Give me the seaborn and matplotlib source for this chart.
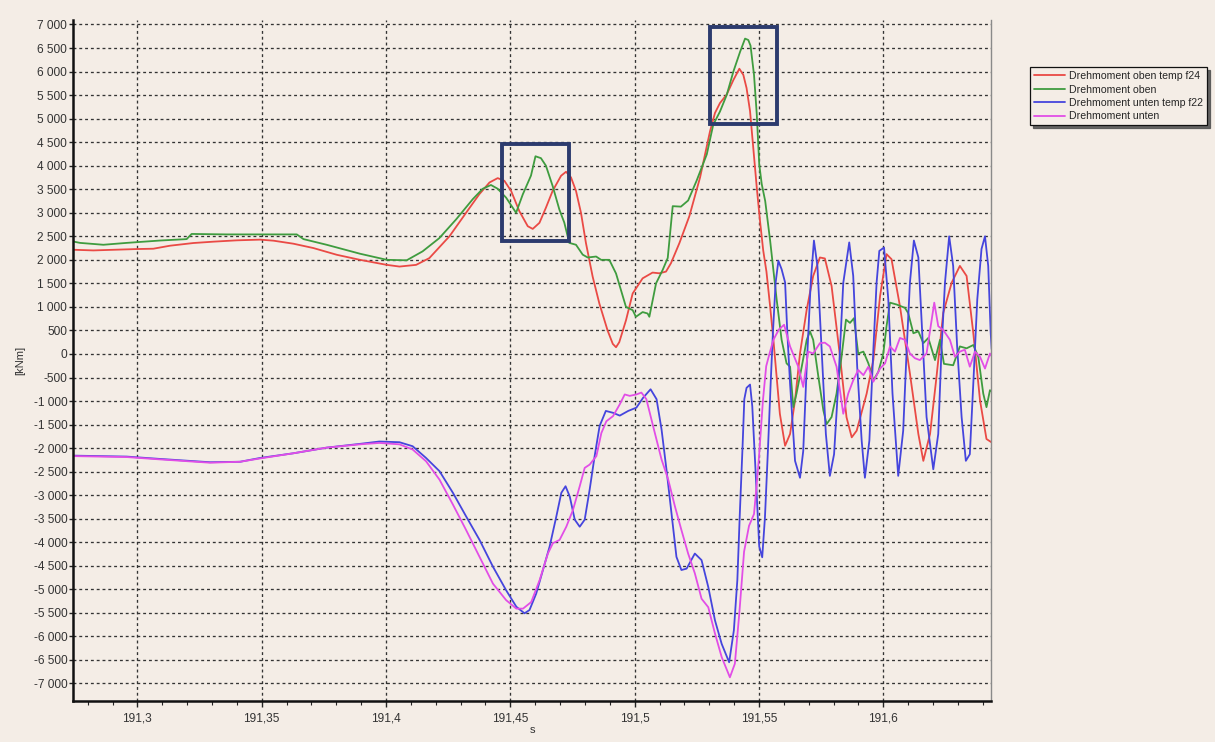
import matplotlib
matplotlib.use("Agg")
import matplotlib.pyplot as plt
from matplotlib.ticker import MultipleLocator, FuncFormatter
from matplotlib.patches import Rectangle
import pandas as pd
import seaborn as sns

# ---- measured torque traces: time [s] / torque [kNm] ----
t_oben_f24 = [
    191.2743, 191.2823, 191.2997, 191.3064, 191.3131, 191.3225, 191.3306, 191.3399,
    191.3493, 191.3547, 191.3627, 191.3708, 191.3802, 191.3895, 191.4003, 191.4054,
    191.4121, 191.4174, 191.4255, 191.4322, 191.4375, 191.4416, 191.4449, 191.4476,
    191.4503, 191.4536, 191.4570, 191.4590, 191.4617, 191.4643, 191.4670, 191.4704,
    191.4724, 191.4744, 191.4764, 191.4784, 191.4804, 191.4831, 191.4858, 191.4891,
    191.4912, 191.4925, 191.4938, 191.4965, 191.4992, 191.5032, 191.5072, 191.5099,
    191.5126, 191.5146, 191.5180, 191.5220, 191.5263, 191.5303, 191.5323, 191.5343,
    191.5370, 191.5397, 191.5421, 191.5437, 191.5450, 191.5464, 191.5477, 191.5491,
    191.5504, 191.5517, 191.5530, 191.5545, 191.5558, 191.5584, 191.5605, 191.5625,
    191.5645, 191.5665, 191.5692, 191.5718, 191.5745, 191.5765, 191.5792, 191.5826,
    191.5852, 191.5873, 191.5893, 191.5933, 191.5960, 191.5987, 191.6013, 191.6033,
    191.6067, 191.6107, 191.6141, 191.6161, 191.6188, 191.6214, 191.6241, 191.6275,
    191.6308, 191.6335, 191.6362, 191.6389, 191.6415, 191.6436,
]
m_oben_f24 = [
    2214, 2200, 2229, 2236, 2300, 2357, 2386, 2414,
    2429, 2407, 2343, 2250, 2107, 2000, 1893, 1857,
    1893, 2036, 2500, 3000, 3393, 3643, 3736, 3679,
    3464, 3036, 2714, 2657, 2786, 3107, 3464, 3786,
    3871, 3750, 3464, 3000, 2357, 1643, 1071, 500,
    214, 143, 250, 714, 1286, 1607, 1729, 1714,
    1750, 1929, 2357, 2929, 3750, 4730, 5120, 5330,
    5510, 5820, 6060, 5930, 5650, 5160, 4380, 3540,
    2830, 2200, 1750, 1000, 300, -1271, -1950, -1700,
    -986, 14, 943, 1657, 2050, 2029, 1443, -57,
    -1343, -1771, -1629, -843, -129, 1229, 2121, 2014,
    1014, -414, -1700, -2271, -1700, -486, 871, 1514,
    1871, 1657, 443, -986, -1807, -1879,
]

t_oben = [
    191.2741, 191.2769, 191.2863, 191.2957, 191.3091, 191.3198, 191.3218, 191.3359,
    191.3493, 191.3641, 191.3668, 191.3761, 191.3895, 191.4003, 191.4083, 191.4147,
    191.4214, 191.4282, 191.4349, 191.4389, 191.4422, 191.4449, 191.4483, 191.4523,
    191.4550, 191.4583, 191.4601, 191.4623, 191.4643, 191.4670, 191.4697, 191.4717,
    191.4737, 191.4764, 191.4791, 191.4811, 191.4845, 191.4865, 191.4898, 191.4925,
    191.4965, 191.4992, 191.5005, 191.5032, 191.5052, 191.5059, 191.5086, 191.5113,
    191.5133, 191.5153, 191.5186, 191.5215, 191.5249, 191.5290, 191.5316, 191.5343,
    191.5370, 191.5397, 191.5424, 191.5444, 191.5457, 191.5466, 191.5480, 191.5491,
    191.5501, 191.5511, 191.5525, 191.5545, 191.5571, 191.5591, 191.5611, 191.5625,
    191.5638, 191.5651, 191.5672, 191.5692, 191.5705, 191.5718, 191.5739, 191.5759,
    191.5772, 191.5792, 191.5812, 191.5832, 191.5850, 191.5866, 191.5882, 191.5899,
    191.5920, 191.5940, 191.5960, 191.5980, 191.6000, 191.6013, 191.6027, 191.6054,
    191.6087, 191.6100, 191.6121, 191.6141, 191.6161, 191.6181, 191.6208, 191.6228,
    191.6244, 191.6281, 191.6308, 191.6335, 191.6362, 191.6382, 191.6402, 191.6415,
    191.6429, 191.6436,
]
m_oben = [
    2390, 2360, 2320, 2360, 2410, 2440, 2550, 2540,
    2540, 2540, 2440, 2320, 2130, 2000, 1990, 2180,
    2460, 2860, 3290, 3510, 3590, 3510, 3320, 3000,
    3390, 3790, 4200, 4160, 4000, 3570, 3070, 2790,
    2360, 2320, 2110, 2050, 2070, 2000, 2000, 1710,
    1000, 930, 790, 890, 860, 790, 1500, 1790,
    2040, 3140, 3130, 3260, 3680, 4240, 4870, 5150,
    5500, 6000, 6420, 6700, 6670, 6550, 5930, 5100,
    4030, 3610, 3250, 2400, 1160, 300, -200, -270,
    -1130, -840, -270, 300, 480, 300, -490, -1200,
    -1490, -1340, -840, -60, 730, 660, 760, 10,
    50, -200, -560, -380, 10, 590, 1090, 1050,
    980, 870, 440, 480, 230, 340, -130, 300,
    -210, -240, 160, 120, 190, -60, -840, -1130,
    -770, -800,
]

t_unten_f22 = [
    191.2743, 191.2957, 191.3091, 191.3292, 191.3413, 191.3493, 191.3627, 191.3761,
    191.3895, 191.3973, 191.4054, 191.4107, 191.4161, 191.4215, 191.4269, 191.4322,
    191.4376, 191.4430, 191.4483, 191.4524, 191.4557, 191.4577, 191.4604, 191.4631,
    191.4658, 191.4685, 191.4705, 191.4722, 191.4739, 191.4759, 191.4779, 191.4799,
    191.4819, 191.4839, 191.4859, 191.4884, 191.4913, 191.4940, 191.4974, 191.5007,
    191.5034, 191.5064, 191.5088, 191.5108, 191.5128, 191.5148, 191.5168, 191.5188,
    191.5209, 191.5242, 191.5269, 191.5296, 191.5323, 191.5350, 191.5380, 191.5399,
    191.5413, 191.5423, 191.5434, 191.5441, 191.5450, 191.5464, 191.5473, 191.5488,
    191.5501, 191.5513, 191.5524, 191.5536, 191.5547, 191.5556, 191.5567, 191.5578,
    191.5591, 191.5605, 191.5614, 191.5625, 191.5645, 191.5665, 191.5678, 191.5692,
    191.5708, 191.5721, 191.5735, 191.5752, 191.5769, 191.5785, 191.5802, 191.5819,
    191.5839, 191.5863, 191.5879, 191.5895, 191.5913, 191.5926, 191.5944, 191.5960,
    191.5973, 191.5984, 191.6003, 191.6020, 191.6037, 191.6060, 191.6080, 191.6094,
    191.6107, 191.6123, 191.6141, 191.6158, 191.6174, 191.6201, 191.6221, 191.6234,
    191.6248, 191.6265, 191.6281, 191.6297, 191.6315, 191.6332, 191.6348, 191.6362,
    191.6378, 191.6395, 191.6409, 191.6422, 191.6432, 191.6436,
]
m_unten_f22 = [
    -2160, -2180, -2230, -2300, -2290, -2210, -2110, -1990,
    -1910, -1860, -1875, -1960, -2210, -2490, -2950, -3450,
    -3950, -4520, -5020, -5370, -5510, -5440, -5090, -4590,
    -4090, -3450, -2950, -2810, -3030, -3520, -3670, -3520,
    -2880, -2170, -1530, -1210, -1250, -1310, -1210, -1140,
    -930, -750, -960, -1600, -2460, -3380, -4310, -4590,
    -4560, -4240, -4380, -4950, -5660, -6160, -6550, -5870,
    -4800, -3380, -1960, -960, -720, -650, -1110, -2670,
    -4090, -4320, -3470, -2040, -620, 450, 1520, 1980,
    1800, 1520, 450, -630, -2270, -2630, -2060, -270,
    1510, 2410, 1870, 90, -1700, -2590, -2130, -630,
    1510, 2370, 1660, -270, -1840, -2630, -1840, 90,
    1510, 2190, 2260, 1160, -840, -2590, -1630, 90,
    1510, 2410, 2050, 300, -1340, -2450, -1700, 90,
    1510, 2500, 1870, 160, -1340, -2270, -2130, -630,
    1160, 2230, 2500, 1870, 440, 100,
]

t_unten = [
    191.2743, 191.2957, 191.3091, 191.3292, 191.3413, 191.3493, 191.3627, 191.3761,
    191.3895, 191.3973, 191.4054, 191.4107, 191.4161, 191.4215, 191.4269, 191.4322,
    191.4376, 191.4430, 191.4483, 191.4524, 191.4551, 191.4584, 191.4618, 191.4651,
    191.4671, 191.4698, 191.4725, 191.4752, 191.4779, 191.4799, 191.4819, 191.4846,
    191.4866, 191.4886, 191.4913, 191.4940, 191.4960, 191.4980, 191.5007, 191.5027,
    191.5047, 191.5074, 191.5108, 191.5135, 191.5162, 191.5188, 191.5215, 191.5242,
    191.5269, 191.5296, 191.5323, 191.5350, 191.5383, 191.5403, 191.5421, 191.5440,
    191.5460, 191.5480, 191.5491, 191.5500, 191.5516, 191.5529, 191.5543, 191.5558,
    191.5580, 191.5601, 191.5625, 191.5658, 191.5678, 191.5698, 191.5718, 191.5745,
    191.5765, 191.5785, 191.5812, 191.5839, 191.5859, 191.5879, 191.5899, 191.5920,
    191.5940, 191.5960, 191.5987, 191.6007, 191.6027, 191.6047, 191.6067, 191.6087,
    191.6107, 191.6127, 191.6147, 191.6174, 191.6205, 191.6221, 191.6241, 191.6268,
    191.6288, 191.6308, 191.6328, 191.6348, 191.6369, 191.6389, 191.6409, 191.6429,
    191.6436,
]
m_unten = [
    -2170, -2190, -2240, -2310, -2290, -2220, -2110, -1990,
    -1920, -1890, -1920, -2030, -2280, -2670, -3200, -3740,
    -4310, -4880, -5230, -5410, -5410, -5270, -4800, -4240,
    -4020, -3950, -3670, -3310, -2810, -2420, -2350, -2170,
    -1680, -1430, -1320, -1070, -860, -890, -860, -820,
    -960, -1530, -2240, -2670, -3240, -3740, -4240, -4660,
    -5200, -5380, -5940, -6440, -6870, -6580, -5500, -4200,
    -3650, -3400, -2760, -2190, -980, -260, 20, 300,
    520, 620, 160, -270, -700, 50, 10, 230,
    240, 160, -270, -1270, -840, -560, -340, -450,
    -270, -590, -310, -200, 160, 50, 340, 300,
    10, -90, -130, 10, 1090, 590, 510, 300,
    -60, 50, 90, -270, 50, -60, -310, 10,
    -50,
]

series_names = ["Drehmoment oben temp f24", "Drehmoment oben",
                "Drehmoment unten temp f22", "Drehmoment unten"]
series_colors = ["#ea4a45", "#3f9c3f", "#4545dd", "#e24ee6"]

# highlighted windows: (t_start, t_end, m_low, m_high)
highlight_1 = (191.4466, 191.4737, 2400, 4460)
highlight_2 = (191.5302, 191.5571, 4890, 6950)

x_limits = (191.2741, 191.6433)
y_limits = (-7372, 7085)

# ---- figure ----
sns.set_style("white")
plt.rcParams["font.family"] = ["Liberation Sans", "DejaVu Sans"]

bg = "#f4ede6"
fig = plt.figure(figsize=(12.15, 7.42), dpi=100, facecolor=bg)
ax = fig.add_axes([0.0601, 0.0553, 0.7555, 0.9171])
ax.set_facecolor(bg)

frames = []
for name, t, m in zip(series_names,
                      [t_oben_f24, t_oben, t_unten_f22, t_unten],
                      [m_oben_f24, m_oben, m_unten_f22, m_unten]):
    frames.append(pd.DataFrame({"t": t, "m": m, "signal": name}))
df = pd.concat(frames, ignore_index=True)

for name, col in zip(series_names, series_colors):
    sub = df[df["signal"] == name]
    sns.lineplot(data=sub, x="t", y="m", color=col, linewidth=1.3,
                 sort=False, estimator=None, label=name, ax=ax)

for (t0, t1, m0, m1) in (highlight_1, highlight_2):
    ax.add_patch(Rectangle((t0, m0), t1 - t0, m1 - m0, fill=False,
                           edgecolor="#2c3b6e", linewidth=2.8, zorder=5))

ax.set_xlim(*x_limits)
ax.set_ylim(*y_limits)

ax.yaxis.set_major_locator(MultipleLocator(500))
ax.xaxis.set_major_locator(MultipleLocator(0.05))
ax.xaxis.set_minor_locator(MultipleLocator(0.01))
ax.yaxis.set_major_formatter(FuncFormatter(
    lambda v, p: f"{int(round(v)):,}".replace(",", " ")))
ax.xaxis.set_major_formatter(FuncFormatter(
    lambda v, p: f"{v:.2f}".rstrip("0").rstrip(".").replace(".", ",")))

ax.grid(True, which="major", color="#333333", linestyle=(0, (2.2, 2.2)),
        linewidth=0.95)
ax.tick_params(axis="both", which="both", direction="out", colors="#222222",
               labelcolor="#333333", labelsize=8.6)
ax.tick_params(axis="y", length=3, width=1, pad=1.2, left=True)
ax.tick_params(axis="x", which="major", length=4, width=1, pad=4, bottom=True)
ax.tick_params(axis="x", which="minor", length=3, width=0.8, bottom=True)

for side in ("left", "bottom"):
    ax.spines[side].set_color("#111111")
    ax.spines[side].set_linewidth(1.8)
ax.spines["right"].set_color("#8a8a8a")
ax.spines["right"].set_linewidth(1.0)
ax.spines["top"].set_visible(False)

ax.set_xlabel("s", fontsize=8, color="#333333", labelpad=1)
ax.set_ylabel("[kNm]", fontsize=8, color="#333333", labelpad=6)

leg = ax.legend(loc="upper left", bbox_to_anchor=(1.0425, 0.9316),
                fontsize=7.6, frameon=True, fancybox=False,
                shadow={"color": "#555555", "alpha": 0.9},
                handlelength=2.9, handletextpad=0.4, labelspacing=0.33,
                borderpad=0.38, borderaxespad=0)
leg.get_frame().set_edgecolor("#111111")
leg.get_frame().set_linewidth(0.9)
leg.get_frame().set_facecolor(bg)
leg.get_frame().set_alpha(1)

fig.savefig("out.png", dpi=100, facecolor=bg)
